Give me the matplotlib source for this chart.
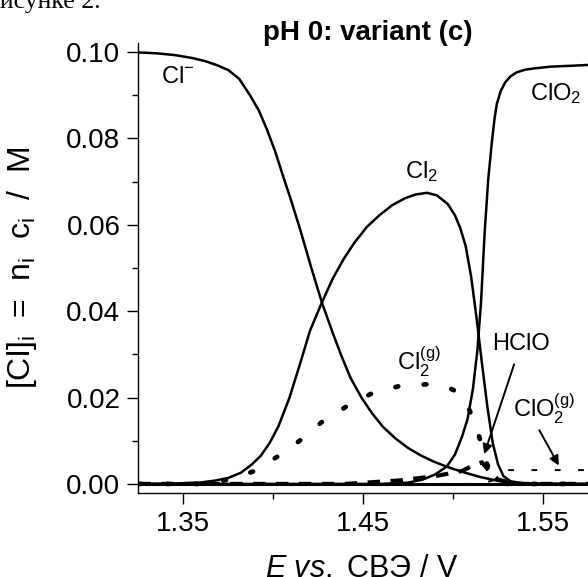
import matplotlib
matplotlib.use("Agg")
import matplotlib.pyplot as plt
from matplotlib.ticker import MultipleLocator, FormatStrFormatter

plt.rcParams['font.family'] = ['Liberation Sans', 'DejaVu Sans']
plt.rcParams['mathtext.fontset'] = 'custom'
plt.rcParams['mathtext.rm'] = 'Liberation Sans'
plt.rcParams['mathtext.it'] = 'Liberation Sans:italic'
plt.rcParams['mathtext.bf'] = 'Liberation Sans:bold'

# --- data (E / V vs. SHE, [Cl]_i / M) ---
e_cl = [1.325, 1.335, 1.345, 1.355, 1.362, 1.369, 1.375, 1.381, 1.387, 1.392,
        1.3965, 1.401, 1.405, 1.410, 1.415, 1.421, 1.427, 1.433, 1.438, 1.443,
        1.449, 1.455, 1.461, 1.468, 1.475, 1.482, 1.489, 1.497, 1.505, 1.515,
        1.525, 1.535, 1.550, 1.575]
c_cl = [0.0999, 0.0997, 0.0993, 0.0986, 0.0979, 0.0969, 0.0958, 0.0938, 0.0900, 0.0864,
        0.0820, 0.0770, 0.0718, 0.0655, 0.0588, 0.0502, 0.0420, 0.0350, 0.0295, 0.0245,
        0.0200, 0.0163, 0.0132, 0.0105, 0.0083, 0.0066, 0.0052, 0.0039, 0.0028, 0.0016,
        0.0007, 0.0002, 0.0, 0.0]

e_cl2 = [1.325, 1.345, 1.359, 1.368, 1.375, 1.382, 1.388, 1.393, 1.398, 1.403,
         1.409, 1.415, 1.4205, 1.427, 1.433, 1.439, 1.445, 1.452, 1.459, 1.466,
         1.473, 1.479, 1.4855, 1.491, 1.497, 1.501, 1.504, 1.507, 1.510, 1.513,
         1.516, 1.519, 1.522, 1.525, 1.528, 1.532, 1.540, 1.575]
c_cl2 = [0.0, 0.0001, 0.0003, 0.0008, 0.0014, 0.0026, 0.0045, 0.0065, 0.0095, 0.0135,
         0.0200, 0.0280, 0.0356, 0.0420, 0.0475, 0.0520, 0.0558, 0.0595, 0.0622, 0.0645,
         0.0661, 0.0670, 0.0674, 0.0668, 0.0648, 0.0622, 0.0592, 0.0550, 0.0480, 0.0385,
         0.0280, 0.0180, 0.0095, 0.0045, 0.0018, 0.0006, 0.0001, 0.0]

e_clo2 = [1.325, 1.460, 1.475, 1.483, 1.490, 1.4964, 1.501, 1.505, 1.508, 1.511,
          1.5135, 1.5155, 1.5175, 1.5195, 1.5215, 1.523, 1.5243, 1.5265, 1.529, 1.532,
          1.5354, 1.540, 1.545, 1.554, 1.565, 1.575]
c_clo2 = [0.0, 0.0, 0.0003, 0.0010, 0.0022, 0.0040, 0.0068, 0.0110, 0.0150, 0.0220,
          0.0310, 0.0420, 0.0580, 0.0705, 0.0790, 0.0845, 0.0880, 0.0910, 0.0930, 0.0944,
          0.0953, 0.0959, 0.0962, 0.0966, 0.0968, 0.0970]

e_cl2g = [1.325, 1.360, 1.374, 1.389, 1.403, 1.416, 1.428, 1.441, 1.455, 1.4705,
          1.4868, 1.496, 1.502, 1.507, 1.510, 1.513, 1.515, 1.518, 1.522, 1.530, 1.575]
c_cl2g = [0.0, 0.0, 0.0009, 0.0029, 0.0065, 0.0104, 0.0147, 0.0180, 0.0210, 0.0227,
          0.0231, 0.0225, 0.0214, 0.0190, 0.0162, 0.0130, 0.0102, 0.0055, 0.0015, 0.0, 0.0]

e_hclo = [1.325, 1.440, 1.470, 1.490, 1.505, 1.512, 1.516, 1.520, 1.525, 1.535, 1.575]
c_hclo = [0.0, 0.0, 0.0008, 0.0018, 0.0030, 0.0045, 0.0050, 0.0030, 0.0010, 0.0, 0.0]

e_clo2g = [1.325, 1.515, 1.522, 1.527, 1.531, 1.575]
c_clo2g = [0.0, 0.0, 0.0008, 0.0025, 0.0032, 0.0032]

# other minor species stay at ~0 over the whole range
e_minor = [1.325, 1.575]
c_minor = [0.0, 0.0]

xticks = [1.35, 1.45, 1.55]
yticks = [0.00, 0.02, 0.04, 0.06, 0.08, 0.10]

fig = plt.figure(figsize=(5.88, 5.77), dpi=100)
ax = fig.add_axes([0.2355, 0.1456, 0.7645, 0.780])

ax.plot(e_minor, c_minor, color='black', lw=2.2)
ax.plot(e_hclo, c_hclo, color='black', lw=3, linestyle=(0, (3, 2.5)))
ax.plot(e_clo2g, c_clo2g, color='black', lw=1.4, linestyle=(0, (3, 9)))
ax.plot(e_cl2g, c_cl2g, color='black', lw=3.4, linestyle=(0, (0.6, 5.4)),
        dash_capstyle='round')
ax.plot(e_cl, c_cl, color='black', lw=1.8)
ax.plot(e_cl2, c_cl2, color='black', lw=1.8)
ax.plot(e_clo2, c_clo2, color='black', lw=1.8)

lab = dict(fontsize=17, ha='left', va='baseline')
ax.text(1.3375, 0.0928, 'Cl$^{-}$', **lab)
ax.text(1.473, 0.0708, 'Cl$_2$', **lab)
ax.text(1.5428, 0.0889, 'ClO$_2$', **lab)
ax.text(1.469, 0.0262, 'Cl$_2^{\\mathrm{(g)}}$', **lab)
ax.text(1.5377, 0.0310, 'HClO', fontsize=17, ha='center', va='baseline')
ax.text(1.5335, 0.0153, 'ClO$_2^{\\mathrm{(g)}}$', **lab)

arrow = dict(arrowstyle='-|>', color='black', lw=1.4, mutation_scale=14)
ax.annotate('', xy=(1.5168, 0.0063), xytext=(1.5344, 0.0283), arrowprops=arrow)
ax.annotate('', xy=(1.5595, 0.0037), xytext=(1.5472, 0.0130), arrowprops=arrow)

ax.set_xlim(1.325, 1.575)
ax.set_ylim(-0.0021, 0.1021)
ax.set_xticks(xticks)
ax.set_yticks(yticks)
ax.xaxis.set_minor_locator(MultipleLocator(0.05))
ax.yaxis.set_minor_locator(MultipleLocator(0.01))
ax.xaxis.set_major_formatter(FormatStrFormatter('%.2f'))
ax.yaxis.set_major_formatter(FormatStrFormatter('%.2f'))
ax.tick_params(which='major', direction='out', length=8, width=1, labelsize=20, pad=5)
ax.tick_params(which='minor', direction='out', length=4, width=1)
for s in ['top', 'right']:
    ax.spines[s].set_visible(False)
for s in ['left', 'bottom']:
    ax.spines[s].set_linewidth(1)

ax.set_xlabel('$\\mathit{E\\ vs.}$ СВЭ / V', fontsize=22)
ax.xaxis.set_label_coords(0.497, -0.135)
ax.set_ylabel('[Cl]$_\\mathrm{i}$  =  n$_\\mathrm{i}$  c$_\\mathrm{i}$  /  M', fontsize=23)
ax.yaxis.set_label_coords(-0.222, 0.5)

fig.text(368 / 588, 1 - 39.5 / 577, 'pH 0: variant (c)', fontsize=20,
         fontweight='bold', ha='center', va='baseline')
fig.text(-13 / 588, 1 - 8 / 577, 'рисунке 2.', fontsize=18.5,
         family='Liberation Serif', ha='left', va='baseline')

fig.savefig('out.png', dpi=100)
